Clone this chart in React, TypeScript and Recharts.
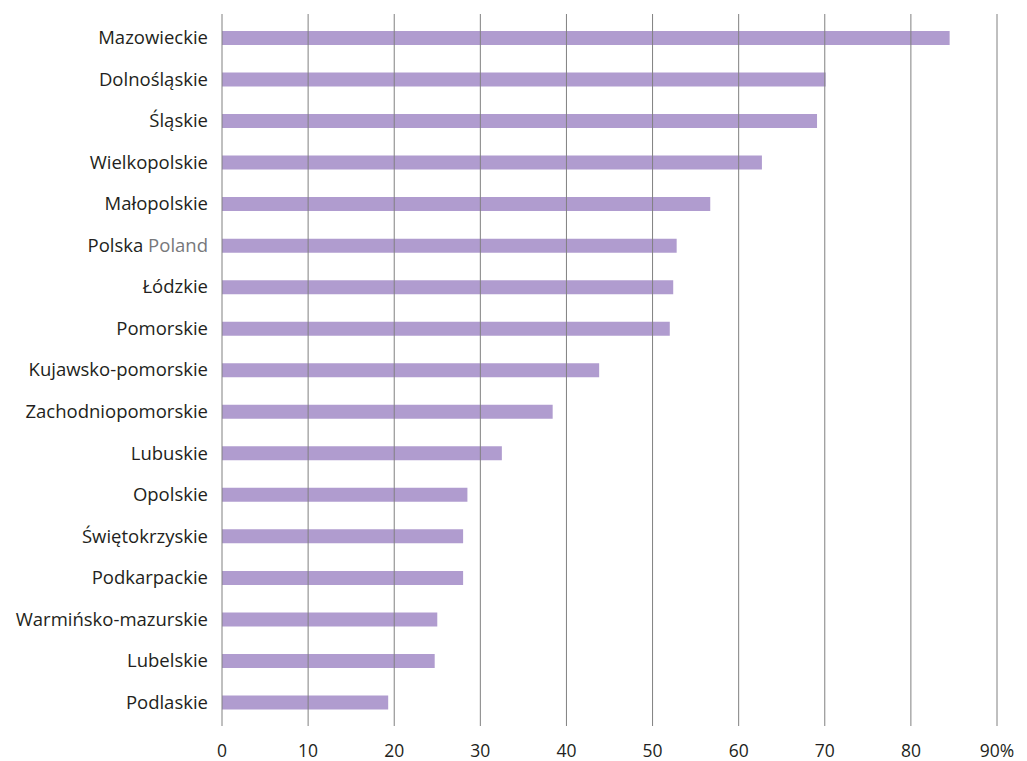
import React from 'react';
import { BarChart, Bar, XAxis, YAxis, ReferenceLine } from 'recharts';

const regions = [
  'Mazowieckie',
  'Dolnośląskie',
  'Śląskie',
  'Wielkopolskie',
  'Małopolskie',
  'Polska',
  'Łódzkie',
  'Pomorskie',
  'Kujawsko-pomorskie',
  'Zachodniopomorskie',
  'Lubuskie',
  'Opolskie',
  'Świętokrzyskie',
  'Podkarpackie',
  'Warmińsko-mazurskie',
  'Lubelskie',
  'Podlaskie',
];

const shares = [84.5, 70.1, 69.1, 62.7, 56.7, 52.8, 52.4, 52.0, 43.8, 38.4, 32.5, 28.5, 28.0, 28.0, 25.0, 24.7, 19.3];

const xTicks = [0, 10, 20, 30, 40, 50, 60, 70, 80, 90];

const data = regions.map((name, i) => ({ name, value: shares[i] }));

const FONT = '"Open Sans", "Noto Sans", sans-serif';

const RegionTick = ({ x, y, payload }: any) => {
  const isPoland = payload.value === 'Polska';
  return (
    <text x={x} y={y} dy="0.35em" textAnchor="end" fontFamily={FONT} fontSize={18.5} fill="#231f20">
      {payload.value}
      {isPoland && <tspan fill="#77787b"> Poland</tspan>}
    </text>
  );
};

const App: React.FC = () => {
  return (
    <div style={{ position: 'absolute', left: 0, top: 0, width: 1027, height: 761, background: '#fff' }}>
      <BarChart
        width={1027}
        height={761}
        data={data}
        layout="vertical"
        margin={{ top: 14, right: 30, left: 0, bottom: 0 }}
        barCategoryGap={0}
      >
        <XAxis
          type="number"
          domain={[0, 90]}
          ticks={xTicks}
          axisLine={false}
          tickLine={false}
          tickSize={0}
          tickMargin={19}
          height={35}
          interval={0}
          tick={{ fill: '#231f20', fontSize: 17.5, fontFamily: FONT }}
          tickFormatter={(v: number) => (v === 90 ? '90%' : String(v))}
        />
        <YAxis
          type="category"
          dataKey="name"
          width={222}
          axisLine={false}
          tickLine={false}
          tickSize={0}
          tickMargin={14}
          interval={0}
          padding={{ top: 3, bottom: 3 }}
          tick={<RegionTick />}
        />
        <Bar dataKey="value" fill="#b09ccf" barSize={14} isAnimationActive={false} />
        {xTicks.map((t) => (
          <ReferenceLine key={t} x={t} stroke="#808080" strokeWidth={1} ifOverflow="extendDomain" />
        ))}
      </BarChart>
    </div>
  );
};

export default App;
